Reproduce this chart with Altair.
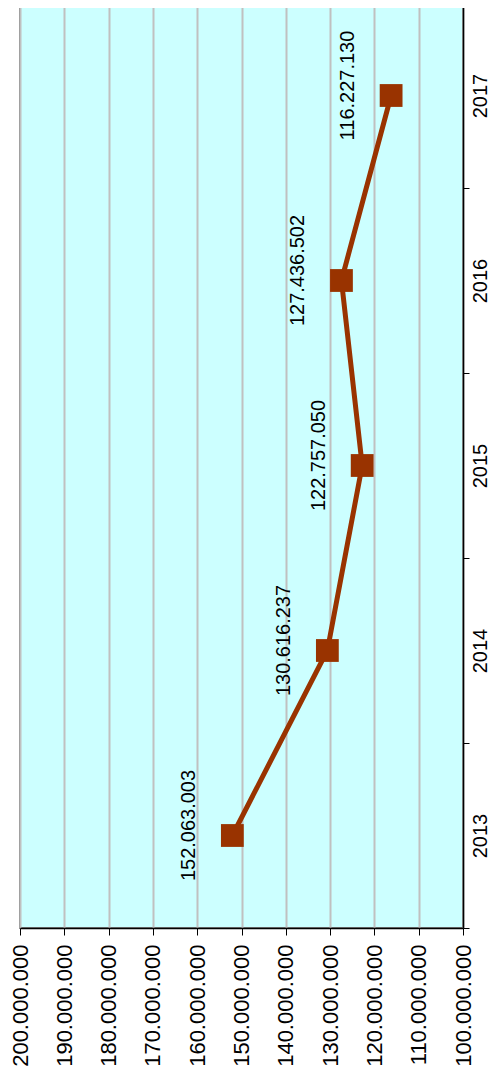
import altair as alt
import pandas as pd

years = ["2013", "2014", "2015", "2016", "2017"]
values = [152063003, 130616237, 122757050, 127436502, 116227130]
labels = ["152.063.003", "130.616.237", "122.757.050", "127.436.502", "116.227.130"]
x_ticks = [100000000, 110000000, 120000000, 130000000, 140000000, 150000000,
           160000000, 170000000, 180000000, 190000000, 200000000]

df = pd.DataFrame({"year": years, "value": values, "label": labels, "order": range(len(years))})

FONT = "Liberation Sans"
COLOR = "#993300"

x_enc = alt.X(
    "value:Q",
    scale=alt.Scale(domain=[100000000, 200000000], reverse=True, nice=False, zero=False),
    axis=alt.Axis(
        orient="bottom", values=x_ticks, title=None,
        labelExpr="join(split(format(datum.value, ','), ','), '.')",
        labelAngle=-90, labelAlign="right", labelBaseline="middle",
        labelFontSize=22, labelFont=FONT, labelColor="black", labelPadding=9,
        domainColor="black", domainWidth=1.5, tickColor="black", tickSize=7, tickWidth=1,
        grid=True, gridColor="#C0C0C0", gridWidth=2,
    ),
)
y_enc = alt.Y(
    "year:N",
    sort="descending",
    scale=alt.Scale(paddingInner=0, paddingOuter=0),
    axis=alt.Axis(
        orient="right", title=None, labelAngle=-90, labelAlign="center", labelBaseline="top",
        labelFontSize=20, labelFont=FONT, labelColor="black", labelPadding=1,
        domainColor="black", domainWidth=1.5, tickColor="black", tickSize=6, tickWidth=1,
        tickBand="extent", grid=False,
    ),
)

base = alt.Chart(df).encode(x=x_enc, y=y_enc)

line = base.mark_line(color=COLOR, strokeWidth=5).encode(order=alt.Order("order:Q"))
pts = base.mark_point(shape="square", filled=True, color=COLOR, size=520, opacity=1)
txt = base.mark_text(angle=270, align="center", baseline="middle", dx=10, dy=-43,
                     fontSize=20, font=FONT, color="black").encode(text="label:N")

chart = (line + pts + txt).properties(
    width=443, height=925,
    autosize=alt.AutoSizeParams(type="none"),
    padding={"left": 12, "top": -5, "right": 27, "bottom": 150},
).configure_view(
    fill="#CCFFFF", stroke="#808080", strokeWidth=2,
)

chart.save("out.html", embed_options={"renderer": "svg", "actions": False})
